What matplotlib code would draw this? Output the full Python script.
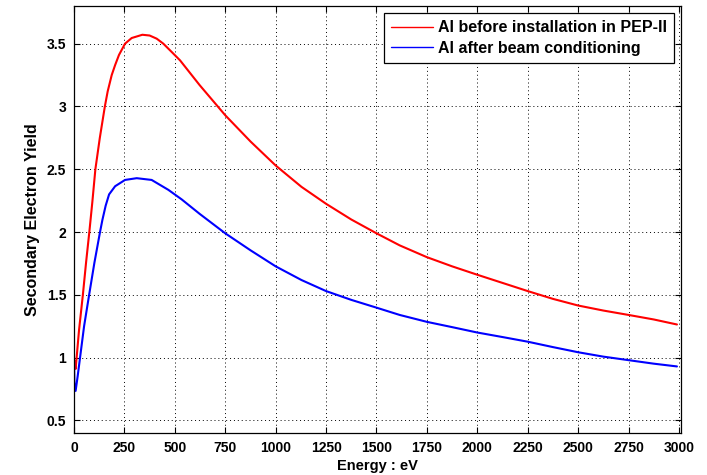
import matplotlib
matplotlib.use("Agg")
import matplotlib.pyplot as plt

red_x = [5, 8, 13, 25, 44, 60, 76, 91, 106, 128, 153, 167, 187, 204, 223, 253, 286,
         339, 375, 410, 443, 485, 526, 623, 750, 876, 1000, 1128, 1250, 1375, 1500,
         1615, 1750, 1875, 2000, 2125, 2250, 2375, 2500, 2625, 2750, 2875, 2990]
red_y = [0.97, 0.91, 1.0, 1.22, 1.5, 1.76, 2.0, 2.24, 2.5, 2.75, 3.0, 3.12, 3.25, 3.33,
         3.41, 3.5, 3.545, 3.571, 3.565, 3.54, 3.5, 3.433, 3.367, 3.17, 2.93, 2.72,
         2.53, 2.36, 2.225, 2.10, 1.99, 1.894, 1.80, 1.727, 1.66, 1.595, 1.53, 1.468,
         1.415, 1.375, 1.34, 1.304, 1.264]

blue_x = [0, 2, 8, 18, 30, 50, 75, 101, 129, 141, 157, 174, 204, 253, 311, 385, 468,
          534, 623, 750, 876, 1000, 1128, 1250, 1375, 1500, 1615, 1750, 1875, 2000,
          2125, 2250, 2375, 2500, 2625, 2750, 2875, 2990]
blue_y = [1.0, 0.80, 0.735, 0.85, 1.0, 1.25, 1.5, 1.754, 2.0, 2.098, 2.21, 2.30, 2.365,
          2.415, 2.429, 2.415, 2.336, 2.26, 2.145, 1.99, 1.854, 1.727, 1.618, 1.53,
          1.46, 1.398, 1.34, 1.285, 1.243, 1.20, 1.164, 1.127, 1.084, 1.043, 1.008,
          0.98, 0.952, 0.93]

red_label = "Al before installation in PEP-II"
blue_label = "Al after beam conditioning"
x_ticks = [0, 250, 500, 750, 1000, 1250, 1500, 1750, 2000, 2250, 2500, 2750, 3000]
y_ticks = [0.5, 1, 1.5, 2, 2.5, 3, 3.5]
y_tick_labels = ["0.5", "1", "1.5", "2", "2.5", "3", "3.5"]

plt.rcParams['font.family'] = ['Liberation Sans', 'DejaVu Sans']
plt.rcParams['font.weight'] = 'bold'

fig = plt.figure(figsize=(7.07, 4.75), dpi=100)
ax = fig.add_axes([74/707, 1 - 433/475, (681 - 74)/707, (433 - 6)/475])

ax.plot(red_x, red_y, color='#ff0000', lw=1.5, label=red_label,
        solid_joinstyle='round', solid_capstyle='round')
ax.plot(blue_x, blue_y, color='#0000ff', lw=1.5, label=blue_label,
        solid_joinstyle='round', solid_capstyle='round')

ax.set_xlim(0, 3010)
ax.set_ylim(0.4, 3.8)
ax.set_xticks(x_ticks)
ax.set_xticklabels([str(t) for t in x_ticks])
ax.set_yticks(y_ticks)
ax.set_yticklabels(y_tick_labels)
ax.grid(True, color='black', linestyle=(0, (1, 3)), linewidth=0.7)
ax.tick_params(direction='in', length=4, width=0.8, top=True, right=True,
               labelsize=10, pad=5.5)
for lbl in ax.get_xticklabels() + ax.get_yticklabels():
    lbl.set_fontweight('bold')
for s in ax.spines.values():
    s.set_linewidth(0.9)
    s.set_color('black')

ax.set_xlabel("Energy : eV", fontsize=10.5, fontweight='bold', labelpad=3)
ax.set_ylabel("Secondary Electron Yield", fontsize=11.5, fontweight='bold', labelpad=5)

leg = ax.legend(loc='upper right', fontsize=11.5, frameon=True, fancybox=False,
                edgecolor='black', framealpha=1, handlelength=2.6,
                borderaxespad=0.45, borderpad=0.45, labelspacing=0.35,
                handletextpad=0.3)
leg.get_frame().set_linewidth(0.9)
for t in leg.get_texts():
    t.set_fontweight('bold')
for l in leg.get_lines():
    l.set_linewidth(1.0)

fig.savefig("out.png", dpi=100)
